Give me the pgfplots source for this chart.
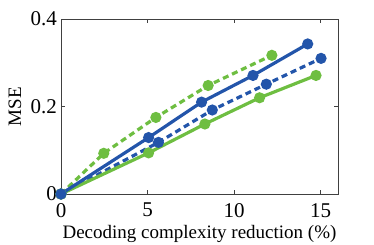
\documentclass[border=0pt]{standalone}
\usepackage{pgfplots}
\pgfplotsset{compat=1.18}
\usepackage{fontspec}
\setmainfont{Liberation Serif}
\definecolor{cblue}{RGB}{35,85,170}
\definecolor{cgreen}{RGB}{110,190,65}
\begin{document}
\begin{tikzpicture}
\useasboundingbox (-61pt,-50pt) rectangle (313pt,194pt);
\begin{axis}[
  scale only axis, width=277pt, height=175pt,
  xmin=0, xmax=16, ymin=0, ymax=0.4,
  xtick={0,5,10,15}, ytick={0,0.2,0.4},
  yticklabels={0,0.2,0.4},
  tick align=inside, major tick length=4pt,
  axis line style={black!75, line width=0.7pt},
  tick style={black!75, line width=0.6pt},
  /pgf/number format/assume math mode=true,
  tick label style={font=\fontsize{21}{21}\selectfont},
  xticklabel style={inner sep=1pt, yshift=-8pt},
  yticklabel style={inner sep=1pt, xshift=-3pt},
  label style={font=\fontsize{19}{19}\selectfont},
  xlabel={Decoding complexity reduction (\%)},
  ylabel={MSE},
  xlabel style={at={(axis description cs:0.5,0)}, anchor=base, yshift=-44pt},
  ylabel style={at={(axis description cs:-0.166,0.5)}, anchor=center},
  every axis plot/.append style={line width=3.2pt, mark=*, mark options={solid}, mark size=3.9pt},
  clip=false,
]
\addplot[cgreen, dash pattern=on 6pt off 4pt] coordinates {(0,0) (2.47,0.093) (5.48,0.175) (8.5,0.248) (12.18,0.317)};
\addplot[cblue, dash pattern=on 6pt off 4pt] coordinates {(0,0) (5.63,0.118) (8.74,0.192) (11.86,0.251) (15.02,0.31)};
\addplot[cgreen] coordinates {(0,0) (5.06,0.094) (8.31,0.16) (11.47,0.22) (14.73,0.271)};
\addplot[cblue] coordinates {(0,0) (5.06,0.129) (8.12,0.21) (11.09,0.271) (14.25,0.343)};
\end{axis}
\end{tikzpicture}
\end{document}
